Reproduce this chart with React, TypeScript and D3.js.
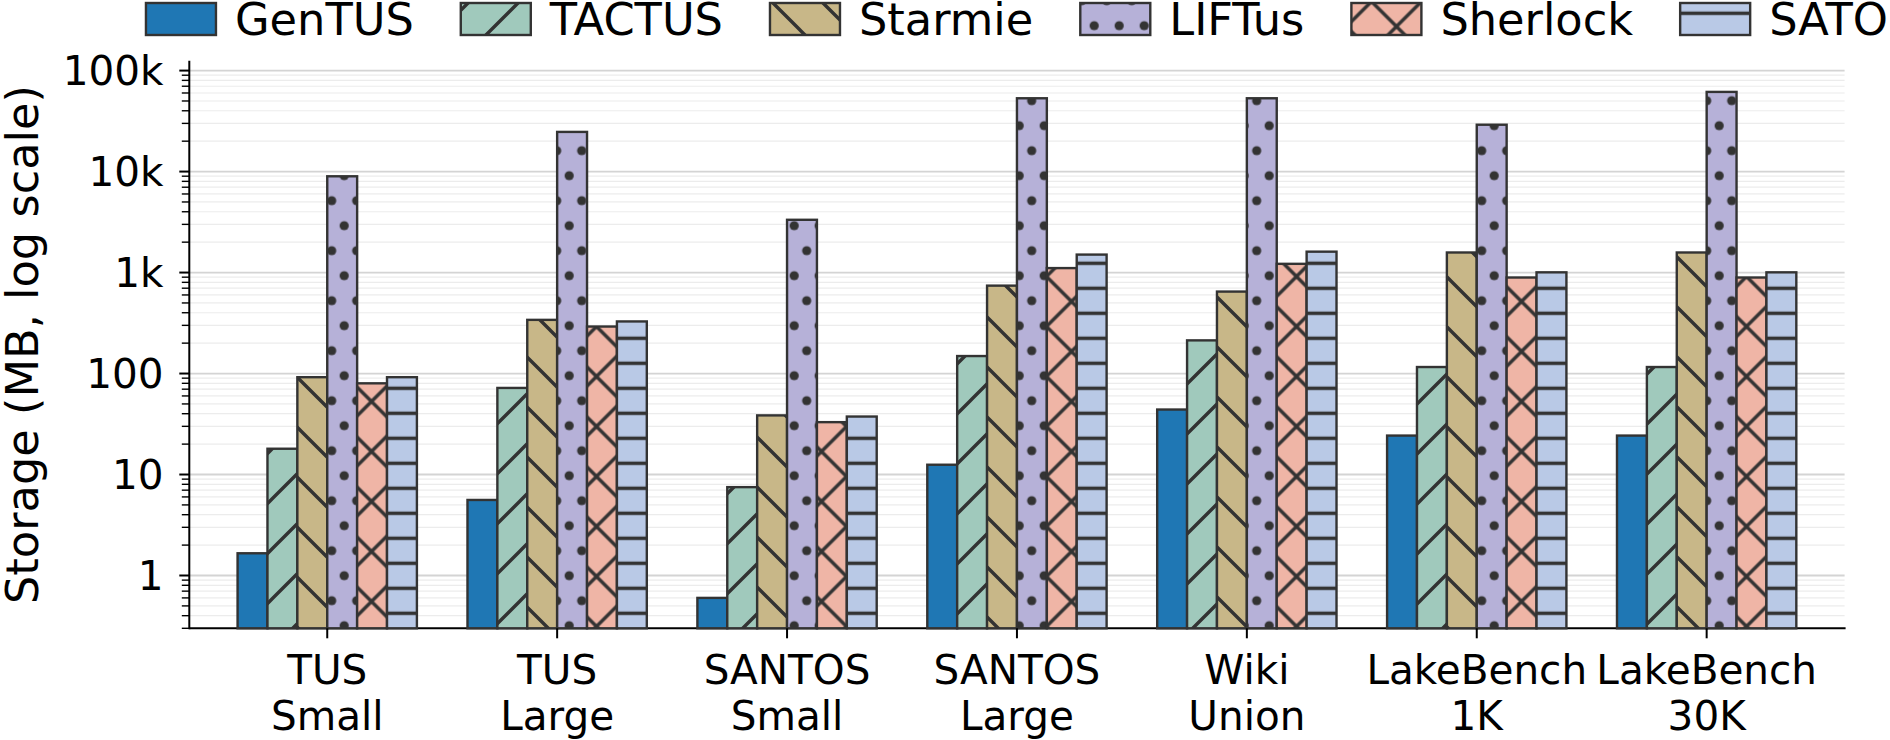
import React, { useEffect, useRef } from 'react';
import * as d3 from 'd3';

const WIDTH = 1890;
const HEIGHT = 740;

// benchmarks (two-line tick labels)
const categories: string[][] = [
  ['TUS', 'Small'],
  ['TUS', 'Large'],
  ['SANTOS', 'Small'],
  ['SANTOS', 'Large'],
  ['Wiki', 'Union'],
  ['LakeBench', '1K'],
  ['LakeBench', '30K'],
];

const methods = ['GenTUS', 'TACTUS', 'Starmie', 'LIFTus', 'Sherlock', 'SATO'];

// storage in MB per benchmark
const genTUS = [1.66, 5.6, 0.6, 12.5, 44, 24.3, 24.3];
const tactus = [18, 72, 7.5, 149, 213, 116, 116];
const starmie = [92, 340, 38.5, 742, 648, 1580, 1580];
const liftus = [8980, 24700, 3330, 53200, 53200, 29100, 61500];
const sherlock = [80, 292, 33, 1107, 1220, 893, 893];
const sato = [92, 328, 37.5, 1506, 1610, 1005, 1005];

const seriesValues = [genTUS, tactus, starmie, liftus, sherlock, sato];

const yTicks = [1, 10, 100, 1000, 10000, 100000];
const yTickLabels = ['1', '10', '100', '1k', '10k', '100k'];

type Hatch = 'none' | '/' | '\\' | '.' | 'x' | '-';

const STYLES: { color: string; hatch: Hatch }[] = [
  { color: '#1f77b4', hatch: 'none' },
  { color: '#a0c9bc', hatch: '/' },
  { color: '#c8b788', hatch: '\\' },
  { color: '#b6b1d8', hatch: '.' },
  { color: '#efb5a6', hatch: 'x' },
  { color: '#b9c9e6', hatch: '-' },
];

const EDGE = '#333333';
const FONT = '"DejaVu Sans", Verdana, sans-serif';

const App: React.FC = () => {
  const svgRef = useRef<SVGSVGElement>(null);

  useEffect(() => {
    if (!svgRef.current) return;
    const svg = d3.select(svgRef.current);
    svg.selectAll('*').remove();

    const left = 189.3;
    const right = 1844.6;
    const top = 60.8;
    const bottom = 628.3;

    const x = d3.scaleLinear().domain([-0.6, 6.6]).range([left, right]);
    const y = d3.scaleLog().domain([0.3, 125000]).range([bottom, top]);

    const barW = 0.13;
    const n = methods.length;

    // hatch patterns, anchored to the page so they line up across bars
    const defs = svg.append('defs');
    STYLES.forEach((s, i) => {
      if (s.hatch === 'none') return;
      const p = defs.append('pattern')
        .attr('id', `hatch-${i}`)
        .attr('patternUnits', 'userSpaceOnUse');
      const lw = 3.4;
      if (s.hatch === '/' || s.hatch === '\\' || s.hatch === 'x') {
        p.attr('width', 50).attr('height', 50);
        let d = '';
        if (s.hatch === '/' || s.hatch === 'x') d += 'M-5,5L5,-5M0,50L50,0M45,55L55,45';
        if (s.hatch === '\\' || s.hatch === 'x') d += 'M0,0L50,50M-5,45L5,55M45,-5L55,5';
        const t = s.hatch === '/' ? 'translate(21,0)' : s.hatch === '\\' ? 'translate(0,30)' : 'translate(-3.5,26.5)';
        p.attr('patternTransform', t);
        p.append('rect').attr('width', 50).attr('height', 50).attr('fill', s.color);
        p.append('path').attr('d', d).attr('stroke', EDGE).attr('stroke-width', lw).attr('fill', 'none');
      } else if (s.hatch === '.') {
        p.attr('width', 25).attr('height', 50).attr('patternTransform', 'translate(6.7,0.7)');
        p.append('rect').attr('width', 25).attr('height', 50).attr('fill', s.color);
        [[0, 0], [25, 0], [0, 50], [25, 50], [12.5, 25]].forEach(([cx, cy]) => {
          p.append('circle').attr('cx', cx).attr('cy', cy).attr('r', 4.6).attr('fill', EDGE);
        });
      } else if (s.hatch === '-') {
        p.attr('width', 50).attr('height', 25).attr('patternTransform', 'translate(0,0.8)');
        p.append('rect').attr('width', 50).attr('height', 25).attr('fill', s.color);
        p.append('path').attr('d', 'M-1,12.5L51,12.5').attr('stroke', EDGE).attr('stroke-width', 3.6);
      }
    });
    const fillFor = (i: number) => (STYLES[i].hatch === 'none' ? STYLES[i].color : `url(#hatch-${i})`);

    // grid: minor lines first, decades on top
    const minor: number[] = [];
    [0.1, 1, 10, 100, 1000, 10000].forEach(dec => {
      for (let k = 2; k <= 9; k++) {
        const v = k * dec;
        if (v >= 0.3 && v <= 125000) minor.push(v);
      }
    });
    const grid = svg.append('g');
    grid.selectAll('line.minor')
      .data(minor)
      .join('line')
      .attr('class', 'minor')
      .attr('x1', left).attr('x2', right)
      .attr('y1', d => y(d)).attr('y2', d => y(d))
      .attr('stroke', '#ececec').attr('stroke-width', 1.2);
    grid.selectAll('line.major')
      .data(yTicks)
      .join('line')
      .attr('class', 'major')
      .attr('x1', left).attr('x2', right)
      .attr('y1', d => y(d)).attr('y2', d => y(d))
      .attr('stroke', '#d4d4d4').attr('stroke-width', 1.8);

    // bottom spine under the bars
    svg.append('line')
      .attr('x1', left).attr('x2', right + 1)
      .attr('y1', bottom).attr('y2', bottom)
      .attr('stroke', '#000').attr('stroke-width', 2);

    // bars
    seriesValues.forEach((vals, i) => {
      svg.append('g')
        .selectAll('rect')
        .data(vals)
        .join('rect')
        .attr('x', (d, g) => x(g + (i - (n - 1) / 2) * barW - barW / 2))
        .attr('width', x(barW) - x(0))
        .attr('y', d => y(d))
        .attr('height', d => bottom - y(d))
        .attr('fill', fillFor(i))
        .attr('stroke', EDGE)
        .attr('stroke-width', 2.4);
    });

    // left spine
    svg.append('line')
      .attr('x1', left).attr('x2', left)
      .attr('y1', top).attr('y2', bottom + 1)
      .attr('stroke', '#000').attr('stroke-width', 2);

    // y ticks
    svg.append('g').selectAll('line')
      .data(minor)
      .join('line')
      .attr('x1', left - 7.5).attr('x2', left)
      .attr('y1', d => y(d)).attr('y2', d => y(d))
      .attr('stroke', '#000').attr('stroke-width', 1.4);
    svg.append('g').selectAll('line')
      .data(yTicks)
      .join('line')
      .attr('x1', left - 10).attr('x2', left)
      .attr('y1', d => y(d)).attr('y2', d => y(d))
      .attr('stroke', '#000').attr('stroke-width', 2);
    svg.append('g').selectAll('text')
      .data(yTicks)
      .join('text')
      .attr('x', 163.5)
      .attr('y', d => y(d))
      .attr('dy', '0.36em')
      .attr('text-anchor', 'end')
      .attr('font-family', FONT)
      .attr('font-size', 40.5)
      .attr('fill', '#000')
      .text((d, i) => yTickLabels[i]);

    // x ticks and two-line labels
    svg.append('g').selectAll('line')
      .data(categories)
      .join('line')
      .attr('x1', (d, i) => x(i)).attr('x2', (d, i) => x(i))
      .attr('y1', bottom).attr('y2', bottom + 10)
      .attr('stroke', '#000').attr('stroke-width', 2);
    const xl = svg.append('g').selectAll('text')
      .data(categories)
      .join('text')
      .attr('text-anchor', 'middle')
      .attr('font-family', FONT)
      .attr('font-size', 40.5)
      .attr('fill', '#000');
    xl.append('tspan').attr('x', (d, i) => x(i)).attr('y', 683.5).text(d => d[0]);
    xl.append('tspan').attr('x', (d, i) => x(i)).attr('y', 730).text(d => d[1]);

    // y axis title
    svg.append('text')
      .attr('transform', `translate(38,${(top + bottom) / 2}) rotate(-90)`)
      .attr('text-anchor', 'middle')
      .attr('font-family', FONT)
      .attr('font-size', 44.7)
      .attr('fill', '#000')
      .text('Storage (MB, log scale)');

    // legend row, centred over the axes
    const legend = svg.append('g');
    const patchW = 70;
    const patchH = 32;
    const textOff = 89;
    const colGap = 47;
    const items = methods.map((m, i) => {
      const g = legend.append('g');
      g.append('rect')
        .attr('x', 0).attr('y', 3)
        .attr('width', patchW).attr('height', patchH)
        .attr('fill', fillFor(i))
        .attr('stroke', EDGE).attr('stroke-width', 2.4);
      const t = g.append('text')
        .attr('x', textOff).attr('y', 34.5)
        .attr('font-family', FONT)
        .attr('font-size', 44.7)
        .attr('fill', '#000')
        .text(m);
      const w = (t.node() as SVGTextElement).getComputedTextLength();
      return { g, w: textOff + w };
    });
    const total = d3.sum(items, d => d.w) + colGap * (items.length - 1);
    let cx = (left + right) / 2 - total / 2;
    items.forEach(it => {
      // patches keep page-anchored hatching, so shift each child instead of the group
      it.g.selectAll('rect').attr('x', cx);
      it.g.selectAll('text').attr('x', cx + textOff);
      cx += it.w + colGap;
    });
  }, []);

  return (
    <div style={{ position: 'absolute', left: 0, top: 0, width: WIDTH, height: HEIGHT, background: '#fff' }}>
      <svg ref={svgRef} width={WIDTH} height={HEIGHT} style={{ display: 'block', overflow: 'hidden' }} />
    </div>
  );
};

export default App;
